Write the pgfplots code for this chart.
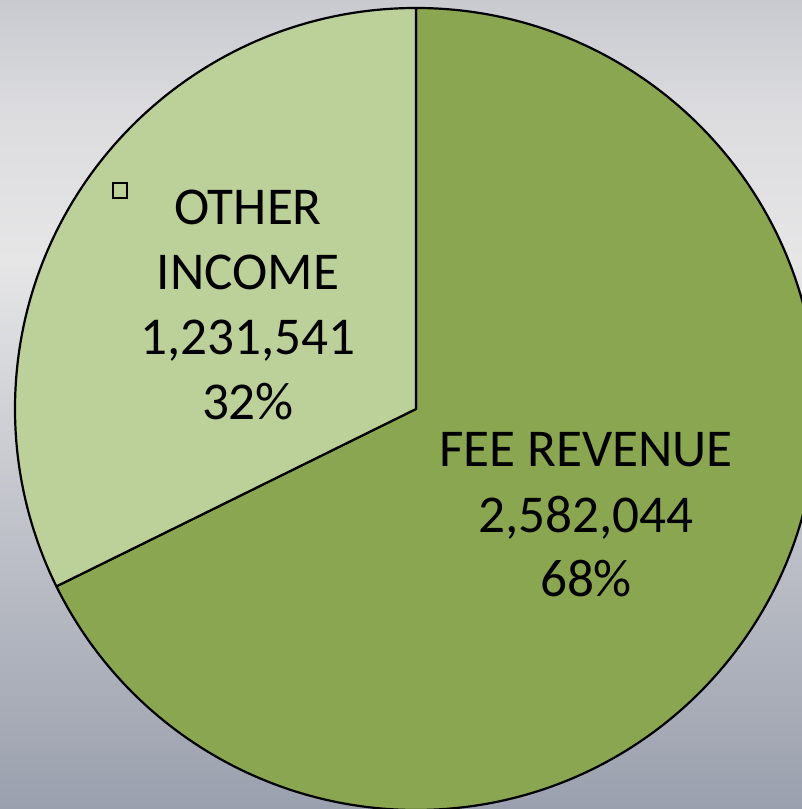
\documentclass[border=0pt]{standalone}
\usepackage{pgfplots}
\usepackage{pgfplotstable}
\usepackage{fontspec}
\setmainfont{Carlito}
\pgfplotsset{compat=1.18}

\definecolor{feecol}{HTML}{8AA650}
\definecolor{othcol}{HTML}{BCD09A}
\definecolor{bgA}{HTML}{9AA0AD}
\definecolor{bgB}{HTML}{C3C5CC}
\definecolor{bgC}{HTML}{E6E6E7}
\definecolor{bgD}{HTML}{DCDCDF}
\definecolor{bgE}{HTML}{C8CAD0}

% 25bp = bottom of the path, 75bp = top
\pgfdeclareverticalshading{panelbg}{100bp}{%
  color(0bp)=(bgA); color(25bp)=(bgA); color(44bp)=(bgB);
  color(59bp)=(bgC); color(68bp)=(bgD); color(75bp)=(bgE); color(100bp)=(bgE)}

\pgfkeys{/pgf/number format/assume math mode=true}

\pgfplotstableread{
label value
fee 2582044
other 1231541
}\piedata

\pgfplotstablegetelem{0}{value}\of\piedata \let\feeval\pgfplotsretval
\pgfplotstablegetelem{1}{value}\of\piedata \let\othval\pgfplotsretval
\pgfkeys{/pgf/fpu=true,/pgf/fpu/output format=fixed}
\pgfmathsetmacro\feeang{90-360*\feeval/(\feeval+\othval)}
\pgfmathsetmacro\othang{\feeang+360}
\pgfmathsetmacro\feepct{100*\feeval/(\feeval+\othval)}
\pgfmathsetmacro\othpct{100*\othval/(\feeval+\othval)}
\pgfkeys{/pgf/fpu=false}

\newcommand\lbl{\fontsize{26.6bp}{32.5bp}\selectfont}
\newcommand\num[1]{\pgfmathprintnumber[fixed,precision=0,1000 sep={,}]{#1}}

\begin{document}
\begin{tikzpicture}
\begin{axis}[
  at={(0,0)}, anchor=origin,
  width=401bp, height=404.5bp,
  scale only axis,
  xmin=0, xmax=802, ymin=0, ymax=809,
  hide axis,
  clip=true,
]
\addplot[draw=none, forget plot] coordinates {(0,0) (802,809)};
\fill[shading=panelbg] (axis cs:0,0) rectangle (axis cs:802,809);

% pie, centre (416,400), radius 401 px = 200.5bp
\filldraw[fill=feecol, draw=black, line width=1.1bp, line join=round]
  (axis cs:416,400) -- +(90:200.5bp) arc[start angle=90, end angle=\feeang, radius=200.5bp] -- cycle;
\filldraw[fill=othcol, draw=black, line width=1.1bp, line join=round]
  (axis cs:416,400) -- +(90:200.5bp) arc[start angle=90, end angle=\othang, radius=200.5bp] -- cycle;

\draw[line width=0.8bp] (axis cs:113,626) rectangle (axis cs:127,611);

\node[anchor=base, inner sep=0pt] at (axis cs:586,342) {\lbl FEE REVENUE};
\node[anchor=base, inner sep=0pt] at (axis cs:586,276) {\lbl \num{\feeval}};
\node[anchor=base, inner sep=0pt] at (axis cs:586,212) {\lbl \num{\feepct}\%};

\node[anchor=base, inner sep=0pt] at (axis cs:248,584) {\lbl OTHER};
\node[anchor=base, inner sep=0pt] at (axis cs:248,519) {\lbl INCOME};
\node[anchor=base, inner sep=0pt] at (axis cs:248,454) {\lbl \num{\othval}};
\node[anchor=base, inner sep=0pt] at (axis cs:248,389) {\lbl \num{\othpct}\%};
\end{axis}
\pgfresetboundingbox
\path (0,0) rectangle (401bp,404.5bp);
\end{tikzpicture}
\end{document}
